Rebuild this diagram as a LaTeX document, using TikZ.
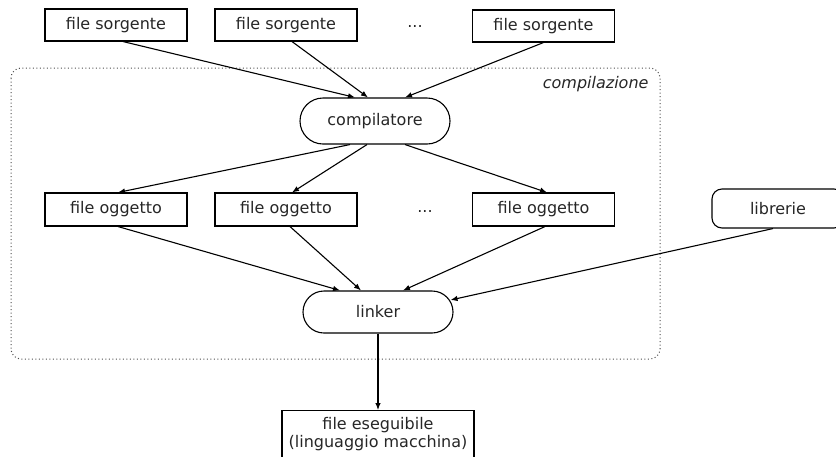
\documentclass[tikz,border=0pt]{standalone}
\usepackage{fontspec}
\setmainfont{DejaVu Sans}
\usetikzlibrary{arrows.meta,calc}
\begin{document}
\begin{tikzpicture}[x=1pt,y=-1pt,
  every node/.style={font=\fontsize{16}{18}\selectfont, text=black!85},
  filebox/.style={draw, line width=1.1pt, minimum width=142pt, minimum height=32pt, inner sep=0pt},
  stadium/.style={draw, line width=1.1pt, rounded corners=21pt, minimum width=150pt, minimum height=44pt, inner sep=0pt},
  libbox/.style={draw, line width=1.1pt, rounded corners=10pt, minimum width=132pt, minimum height=39pt, inner sep=0pt},
  arr/.style={line width=1.1pt, -{Latex[length=7pt,width=5.5pt]}},
  group/.style={draw=black!70, line width=1pt, dash pattern=on 1pt off 2.5pt, rounded corners=10pt},
  dots/.style={anchor=base}
]
\useasboundingbox (0,0) rectangle (836,456);
\draw[group] (11,68) rectangle (660,359);
\node[font=\fontsize{16}{18}\selectfont\itshape, anchor=base east] (lbl) at (652,88) {compilazione};

\node[filebox] (s1) at (116,25) {file sorgente};
\node[filebox] (s2) at (286,25) {file sorgente};
\node[dots] (d1) at (415,27) {...};
\node[filebox] (s3) at (543.5,26) {file sorgente};

\node[stadium, minimum height=46pt, rounded corners=23pt] (comp) at (375,121) {compilatore};

\node[filebox, minimum height=33pt] (o1) at (116,209.5) {file oggetto};
\node[filebox, minimum height=33pt] (o2) at (286,209.5) {file oggetto};
\node[dots] (d2) at (425,212) {...};
\node[filebox, minimum height=33pt] (o3) at (543.5,209.5) {file oggetto};

\node[libbox] (lib) at (778,208.5) {librerie};

\node[stadium, minimum height=42pt] (lk) at (378,312) {linker};

\node[draw, line width=1.1pt, minimum width=192pt, minimum height=56pt, inner sep=0pt, anchor=north, align=center, text depth=12pt] (exe) at (378,410) {file eseguibile\\(linguaggio macchina)};

\draw[arr] ($(s1.south)+(7,0)$) -- ($(comp.north)+(-20,0)$);
\draw[arr] ($(s2.south)+(6,0)$) -- ($(comp.north)+(-7,0)$);
\draw[arr] ($(s3.south)+(0,0)$) -- ($(comp.north)+(30,0)$);

\draw[arr] ($(comp.south)+(-25,0)$) -- ($(o1.north)+(2,0)$);
\draw[arr] ($(comp.south)+(-8,0)$) -- ($(o2.north)+(6,0)$);
\draw[arr] ($(comp.south)+(30,0)$) -- ($(o3.north)+(3.5,0)$);

\draw[arr] ($(o1.south)+(2,0)$) -- ($(lk.north)+(-38,0)$);
\draw[arr] ($(o2.south)+(4,0)$) -- ($(lk.north)+(-17,0)$);
\draw[arr] ($(o3.south)+(1.5,0)$) -- ($(lk.north)+(25,0)$);
\draw[arr] ($(lib.south)+(-5,0)$) -- ($(lk.east)+(-3,-12)$);

\draw[arr] (lk.south) -- (exe.north);
\end{tikzpicture}
\end{document}
